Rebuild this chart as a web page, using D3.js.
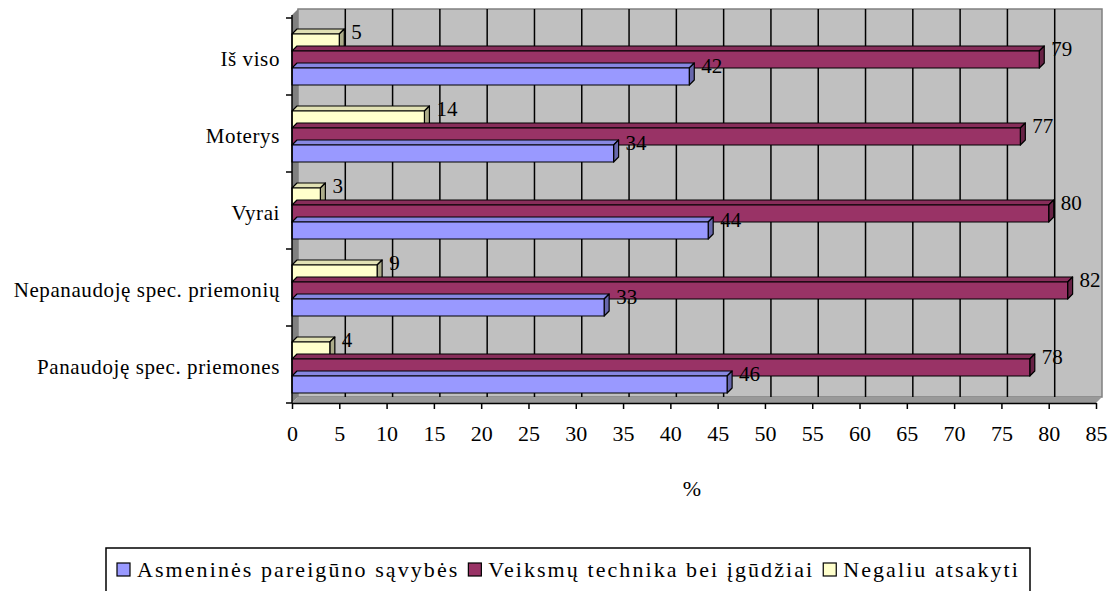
<!DOCTYPE html>
<html>
<head>
<meta charset="utf-8">
<script src="https://cdn.jsdelivr.net/npm/d3@7"></script>
</head>
<body style="margin:0">
<script>
const categories = ["Iš viso", "Moterys", "Vyrai", "Nepanaudoję spec. priemonių", "Panaudoję spec. priemones"];
const seriesNames = ["Asmeninės pareigūno sąvybės", "Veiksmų technika bei įgūdžiai", "Negaliu atsakyti"];
const asmenines = [42, 34, 44, 33, 46];
const veiksmu = [79, 77, 80, 82, 78];
const negaliu = [5, 14, 3, 9, 4];
const xTicks = [0, 5, 10, 15, 20, 25, 30, 35, 40, 45, 50, 55, 60, 65, 70, 75, 80, 85];

const colors = ["#9999FF", "#993366", "#FFFFCC"];
const series = [asmenines, veiksmu, negaliu];
const serif = '"Times New Roman"';

const W = 1110, H = 591;
const depth = 6;      // wall depth
const barDepth = 5;   // bar depth

const svg = d3.select("body").append("svg")
    .attr("width", W)
    .attr("height", H);

const x = d3.scaleLinear().domain([0, 85]).range([292, 1096]);
const y = d3.scaleBand().domain(categories).range([18, 403]).padding(0);

// series inside a category, yellow on top, blue at the bottom
const inner = d3.scaleBand()
    .domain([2, 1, 0])
    .range([0, 51]);
const groupOffset = (y.bandwidth() - 51) / 2 + 3;

const plotTop = y.range()[0] - 3, plotBottom = y.range()[1];

// back wall
svg.append("rect")
    .attr("x", x(0) + depth)
    .attr("y", plotTop - depth)
    .attr("width", x(85) - x(0))
    .attr("height", plotBottom - plotTop)
    .attr("fill", "#C0C0C0")
    .attr("stroke", "#808080")
    .attr("stroke-width", 1.5);

// left wall
svg.append("path")
    .attr("d", `M${x(0)},${plotTop} L${x(0) + depth},${plotTop - depth} L${x(0) + depth},${plotBottom - depth} L${x(0)},${plotBottom} Z`)
    .attr("fill", "#808080");

// floor
svg.append("path")
    .attr("d", `M${x(0)},${plotBottom} L${x(0) + depth},${plotBottom - depth} L${x(85) + depth},${plotBottom - depth} L${x(85)},${plotBottom} Z`)
    .attr("fill", "#999999");

// gridlines on back wall
svg.append("g")
    .selectAll("line")
    .data(xTicks.slice(1, -1))
    .join("line")
    .attr("x1", d => x(d) + depth)
    .attr("x2", d => x(d) + depth)
    .attr("y1", plotTop - depth)
    .attr("y2", plotBottom - depth)
    .attr("stroke", "#000")
    .attr("stroke-width", 1.5);

// bars, drawn from bottom to top so the upper front face covers the lower top face
const bars = [];
categories.forEach((c, ci) => {
    [0, 1, 2].forEach(si => {
        bars.push({ cat: c, s: si, v: series[si][ci] });
    });
});

const barH = inner.bandwidth();
const barG = svg.append("g");
bars.slice().reverse().forEach(b => {
    const x0 = x(0), x1 = x(b.v);
    const y0 = y(b.cat) + groupOffset + inner(b.s);
    const base = d3.color(colors[b.s]);
    const g = barG.append("g")
        .attr("stroke", "#000")
        .attr("stroke-width", 1.2)
        .attr("stroke-linejoin", "round");
    g.append("path")
        .attr("d", `M${x0},${y0} L${x0 + barDepth},${y0 - barDepth} L${x1 + barDepth},${y0 - barDepth} L${x1},${y0} Z`)
        .attr("fill", base.darker(0.35));
    g.append("path")
        .attr("d", `M${x1},${y0} L${x1 + barDepth},${y0 - barDepth} L${x1 + barDepth},${y0 + barH - barDepth} L${x1},${y0 + barH} Z`)
        .attr("fill", base.darker(1.1));
    g.append("rect")
        .attr("x", x0)
        .attr("y", y0)
        .attr("width", x1 - x0)
        .attr("height", barH)
        .attr("fill", colors[b.s]);
});

// value labels
svg.append("g")
    .selectAll("text")
    .data(bars)
    .join("text")
    .attr("x", d => x(d.v) + 12)
    .attr("y", d => y(d.cat) + groupOffset + inner(d.s) + 5)
    .attr("font-size", 21)
    .style("font-family", serif)
    .attr("fill", "#000")
    .text(d => d.v);

// x axis
const xAxis = svg.append("g")
    .attr("transform", `translate(0,${plotBottom})`)
    .call(d3.axisBottom(x).tickValues(xTicks).tickSize(6).tickPadding(16).tickSizeOuter(0));
xAxis.attr("font-family", null).attr("font-size", null);
xAxis.select(".domain").attr("stroke", "#000").attr("stroke-width", 1.5);
xAxis.selectAll(".tick line").attr("stroke-width", 1.5);
xAxis.selectAll("text")
    .attr("font-size", 22)
    .style("font-family", serif)
    .attr("fill", "#000");

// y axis
svg.append("line")
    .attr("x1", x(0)).attr("x2", x(0))
    .attr("y1", plotTop).attr("y2", plotBottom)
    .attr("stroke", "#000").attr("stroke-width", 1.5);
const edges = categories.map(c => y(c)).concat([y.range()[1]]);
svg.append("g")
    .selectAll("line")
    .data(edges)
    .join("line")
    .attr("x1", x(0) - 6).attr("x2", x(0))
    .attr("y1", d => d).attr("y2", d => d)
    .attr("stroke", "#000").attr("stroke-width", 1.5);
svg.append("g")
    .selectAll("text")
    .data(categories)
    .join("text")
    .attr("x", 280)
    .attr("y", d => y(d) + y.bandwidth() / 2 + 9)
    .attr("text-anchor", "end")
    .attr("font-size", 21)
    .style("letter-spacing", "0.6px")
    .style("font-family", serif)
    .text(d => d);

// axis title
svg.append("text")
    .attr("x", 692)
    .attr("y", 496)
    .attr("text-anchor", "middle")
    .attr("font-size", 22)
    .style("font-family", serif)
    .text("%");

// legend
const legend = svg.append("g");
legend.append("rect")
    .attr("x", 106).attr("y", 548)
    .attr("width", 924).attr("height", 80)
    .attr("fill", "#fff")
    .attr("stroke", "#000")
    .attr("stroke-width", 1.5);
const texts = seriesNames.map(name => legend.append("text")
    .attr("y", 577)
    .attr("font-size", 22)
    .style("font-family", serif)
    .text(name));
// spread letters so the row fills the box like the original
const natural = d3.sum(texts, t => t.node().getComputedTextLength());
const nChars = d3.sum(seriesNames, s => s.length);
const rowWidth = 1020 - 117 - 3 * 20 - 2 * 9;
const spacing = Math.max(0, (rowWidth - natural) / nChars);
let lx = 117;
texts.forEach((t, i) => {
    legend.append("rect")
        .attr("x", lx).attr("y", 563)
        .attr("width", 13).attr("height", 13)
        .attr("fill", colors[i])
        .attr("stroke", "#000")
        .attr("stroke-width", 1.2);
    t.attr("x", lx + 20).style("letter-spacing", spacing + "px");
    lx += 20 + t.node().getComputedTextLength() + 9;
});
</script>
</body>
</html>
